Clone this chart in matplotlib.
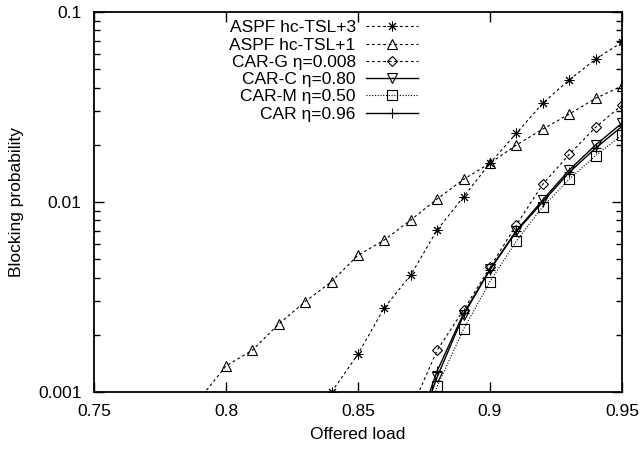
import matplotlib.pyplot as plt
from matplotlib.ticker import FixedLocator, FixedFormatter, LogLocator, NullFormatter

plt.rcParams['font.family'] = ['Liberation Sans', 'DejaVu Sans']

# Data
load_aspf3 = [0.84, 0.85, 0.86, 0.87, 0.88, 0.89, 0.90, 0.91, 0.92, 0.93, 0.94, 0.95]
aspf3 = [0.00100, 0.00158, 0.00278, 0.00413, 0.00712, 0.01066, 0.0160, 0.0230,
         0.0331, 0.0439, 0.0564, 0.0693]

load_aspf1 = [0.79, 0.80, 0.81, 0.82, 0.83, 0.84, 0.85, 0.86, 0.87, 0.88, 0.89,
              0.90, 0.91, 0.92, 0.93, 0.94, 0.95]
aspf1 = [0.00092, 0.00137, 0.00166, 0.00228, 0.00299, 0.00381, 0.00524, 0.00631,
         0.00804, 0.01037, 0.01316, 0.0160, 0.01995, 0.0242, 0.0290, 0.0351, 0.0408]

load_car = [0.87, 0.88, 0.89, 0.90, 0.91, 0.92, 0.93, 0.94, 0.95]
car_g = [0.00080, 0.00166, 0.0027, 0.00453, 0.00757, 0.0124, 0.0178, 0.0247, 0.0324]
car_c = [0.00050, 0.00120, 0.00254, 0.00442, 0.00706, 0.01025, 0.01473, 0.01995, 0.0260]
car_m = [0.00040, 0.00107, 0.00214, 0.00381, 0.00623, 0.00945, 0.01316, 0.01753, 0.0225]
car = [0.00052, 0.00129, 0.00259, 0.0044, 0.0070, 0.0100, 0.0143, 0.0192, 0.0250]

x_ticks = [0.75, 0.8, 0.85, 0.9, 0.95]
x_labels = ['0.75', '0.8', '0.85', '0.9', '0.95']
y_ticks = [0.001, 0.01, 0.1]
y_labels = ['0.001', '0.01', '0.1']

fig = plt.figure(figsize=(6.42, 4.54), dpi=100)
ax = fig.add_axes([0.1464, 0.1366, 0.8224, 0.837])

fs = 12.5
dash = (0, (2.5, 2.5))
ax.plot(load_aspf3, aspf3, color='black', lw=0.8, ls=dash, marker=(8, 2, 0),
        ms=7, mew=0.7, label='ASPF hc-TSL+3')
ax.plot(load_aspf1, aspf1, color='black', lw=0.8, ls=dash, marker='^', ms=7,
        mfc='none', mew=0.8, label='ASPF hc-TSL+1')
ax.plot(load_car, car_g, color='black', lw=0.8, ls=dash, marker='D', ms=5.5,
        mfc='none', mew=0.8, label='CAR-G η=0.008')
ax.plot(load_car, car_c, color='black', lw=1.0, ls='-', marker='v', ms=7,
        mfc='none', mew=0.8, label='CAR-C η=0.80')
ax.plot(load_car, car_m, color='black', lw=0.8, ls=(0, (1, 1.5)), marker='s', ms=6.5,
        mfc='none', mew=0.8, label='CAR-M η=0.50')
ax.plot(load_car, car, color='black', lw=1.0, ls='-', marker='+', ms=7.5,
        mew=0.8, label='CAR η=0.96')

ax.set_xlim(0.75, 0.95)
ax.set_yscale('log')
ax.set_ylim(0.001, 0.1)

ax.xaxis.set_major_locator(FixedLocator(x_ticks))
ax.xaxis.set_major_formatter(FixedFormatter(x_labels))
ax.yaxis.set_major_locator(FixedLocator(y_ticks))
ax.yaxis.set_major_formatter(FixedFormatter(y_labels))
ax.yaxis.set_minor_locator(LogLocator(base=10, subs=range(2, 10)))
ax.yaxis.set_minor_formatter(NullFormatter())

ax.tick_params(which='major', direction='in', length=7, width=1, top=True, right=True,
               labelsize=fs)
ax.tick_params(axis='y', which='major', pad=9)
ax.tick_params(axis='x', which='major', pad=8.5)
ax.tick_params(which='minor', direction='in', length=4, width=1, top=True, right=True)
ax.tick_params(axis='x', which='minor', bottom=False, top=False)
for s in ax.spines.values():
    s.set_linewidth(1.3)

ax.set_xlabel('Offered load', fontsize=fs, labelpad=6)
ax.set_ylabel('Blocking probability', fontsize=fs, labelpad=10)

ax.legend(loc='upper right', bbox_to_anchor=(0.614, 0.978), frameon=False,
          markerfirst=False, fontsize=fs, handlelength=3.0, handletextpad=0.6,
          labelspacing=0.12, borderaxespad=0, borderpad=0)

fig.savefig('out.png', dpi=100)
